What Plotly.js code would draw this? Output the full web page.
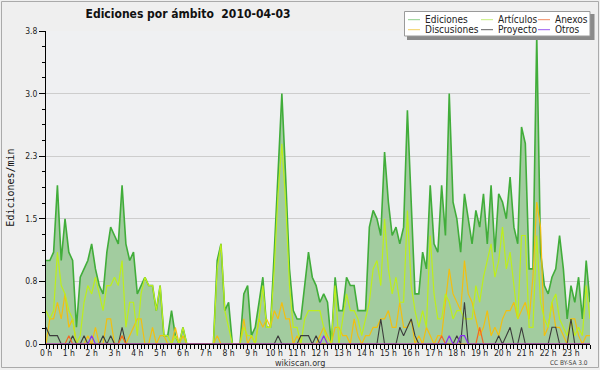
<!DOCTYPE html>
<html><head><meta charset="utf-8">
<script src="https://cdn.plot.ly/plotly-3.0.1.min.js"></script>
<style>html,body{margin:0;padding:0;background:#efefef}</style>
</head><body><div id="chart" style="width:600px;height:370px"></div>
<script>
// 10-minute samples, 2010-04-03 (edits per minute)
const ediciones = [
1.0,1.0,1.1,1.9,1.0,1.5,1.1,1.0,0.2,0.8,
0.9,1.0,1.2,0.9,0.7,0.6,1.1,1.4,1.3,1.2,
1.9,1.2,1.0,1.1,0.6,0.7,0.8,0.7,0.7,0.4,
0.7,0.1,0.1,0.4,0.1,0.0,0.2,0.0,0,0,
0,0,0,0,0,1.0,1.2,0.4,0.5,0.0,
0,0,0.6,0.7,0.1,0.2,0.5,0.8,0.2,0.2,
1.1,2.1,3.0,2.0,0.9,0.4,0.3,0.3,0.7,1.1,
0.8,0.7,0.5,0.6,0.5,0.0,0.8,0.4,0.4,0.8,
0.7,0.7,0.4,0.4,0.4,1.4,1.6,1.5,1.3,2.3,
1.7,1.3,1.4,1.2,1.4,2.8,1.6,0.6,0.6,1.1,
0.9,1.9,1.2,1.1,1.9,1.3,3.0,1.7,1.5,1.1,
1.8,1.5,1.2,1.6,1.4,1.8,1.2,1.9,1.1,1.8,
1.7,1.5,2.0,1.4,1.2,2.6,2.4,0.9,0.9,3.7,
1.1,0.7,0.6,0.8,0.9,1.3,0.9,0.3,0.7,0.5,
0.8,0.3,1.0,0.5];
const articulos = [
0.4,0.3,0.4,1.1,0.7,0.6,0.4,0.3,0.0,0.1,
0.5,0.7,0.6,0.8,0.6,0.4,0.7,0.7,0.8,0.7,
1.0,0.2,0.5,0.5,0.1,0.6,0.8,0.7,0.7,0.4,
0.7,0.1,0.1,0.0,0.1,0.0,0.2,0,0,0,
0,0,0,0,0,0.9,1.2,0.4,0.2,0,
0,0,0.2,0.1,0.1,0.0,0.3,0.7,0.2,0.2,
0.9,1.8,2.4,1.7,0.7,0.2,0.2,0.0,0.3,0.4,
0.4,0.4,0.4,0.2,0.0,0.0,0.7,0.0,0.3,0.6,
0.4,0.4,0.3,0.1,0.3,0.5,0.9,1.0,0.7,1.5,
0.9,0.6,0.8,0.5,0.5,1.6,0.7,0.4,0.2,0.4,
0.2,1.3,0.6,0.3,0.3,0.6,0.5,0.3,0.4,0.4,
0.3,0.3,0.3,0.7,0.5,0.8,1.0,1.2,0.8,1.0,
1.4,0.9,1.1,0.7,0.3,1.3,1.3,0.2,0.2,1.3,
0.5,0.3,0.2,0.5,0.6,0.3,0.2,0.1,0.3,0.1,
0.2,0.1,0.7,0.3];
const discusiones = [
0.0,0.3,0.3,0.5,0.3,0.6,0.2,0.3,0.0,0.0,
0.0,0.1,0.0,0.2,0.0,0.0,0.3,0.3,0.0,0.0,
0.1,0.0,0.1,0.2,0.3,0.3,0.0,0.0,0.2,0.0,
0.1,0.1,0.0,0.0,0.2,0.0,0.1,0,0,0,
0,0,0,0,0,0.1,0.0,0,0,0,
0,0,0.3,0.0,0.1,0.0,0.3,0.2,0.3,0.2,
0.4,0.3,0.5,0.3,0.3,0.0,0.1,0.0,0.0,0.0,
0.0,0.0,0.1,0.2,0.1,0.0,0.2,0.2,0.1,0.1,
0.0,0.3,0.1,0.0,0.1,0.1,0.2,0.2,0.3,0.3,
0.4,0.2,0.2,0.5,0.2,0.2,0.3,0.0,0.1,0.0,
0.2,0.1,0.0,0.1,0.1,0.5,0.9,0.6,0.5,0.4,
1.0,0.6,0.5,0.3,0.1,0.2,0.4,0.1,0.2,0.1,
0.3,0.4,0.4,0.5,0.3,0.4,0.5,0.3,0.8,1.7,
1.4,0.1,0.2,0.5,0.2,0.2,0.1,0.0,0.3,0.3,
0.1,0.0,0.1,0.1];
const proyecto = [
0.2,0.1,0.1,0.1,0,0,0,0.1,0,0,
0.1,0,0,0,0,0.1,0,0.1,0,0,
0.2,0,0,0,0,0,0,0,0,0,
0,0,0,0,0,0,0,0,0,0,
0,0,0,0,0,0,0,0,0,0,
0,0,0,0,0,0,0,0,0,0,
0,0.1,0,0,0,0,0,0.1,0.1,0.1,
0,0.1,0,0,0,0,0,0,0,0,
0,0,0,0,0,0,0,0,0.3,0,
0,0,0,0.2,0.1,0.2,0.3,0.1,0,0,
0,0,0,0,0,0,0,0,0.1,0,
0.5,0,0,0,0,0,0,0,0,0.1,
0,0.1,0.2,0,0,0.2,0,0,0,0,
0,0,0,0.2,0.2,0,0,0,0.3,0,
0,0,0,0];
const anexos = [
0,0,0,0,0,0,0.1,0,0,0,
0,0,0,0,0,0,0,0,0,0,
0.1,0,0,0,0,0,0,0,0,0,
0,0,0,0,0,0,0,0,0,0,
0,0,0,0,0,0,0,0,0,0,
0,0,0,0,0,0,0,0,0,0,
0,0,0,0,0,0,0,0,0,0,
0,0,0,0,0,0,0,0,0,0,
0,0,0,0,0,0,0,0,0,0,
0,0,0,0,0,0,0,0,0,0,
0,0,0,0,0.1,0,0,0,0,0,
0,0,0,0,0.2,0,0,0,0,0,
0,0,0,0,0,0,0,0,0,0,
0,0,0,0,0,0,0,0,0,0,
0,0,0,0];
const otros = [
0,0,0,0,0,0,0,0,0,0,
0,0,0.1,0,0,0,0,0,0,0,
0,0,0,0,0,0,0,0,0,0,
0,0,0,0,0,0,0,0,0,0,
0,0,0,0,0,0,0,0,0,0,
0,0,0,0,0,0,0,0,0,0,
0,0,0,0,0,0,0,0,0,0,
0,0,0,0.1,0,0,0,0,0,0,
0,0,0,0,0,0,0,0,0,0,
0,0,0,0,0,0,0,0,0,0,
0,0,0,0,0,0,0.1,0,0,0.1,
0.1,0,0,0,0,0,0,0,0,0,
0,0,0,0,0,0,0,0,0,0,
0,0,0,0,0,0,0,0,0,0,
0,0,0,0];

const seriesNames = ['Ediciones','Artículos','Anexos','Discusiones','Proyecto','Otros'];
const yTickVals = [0, 0.75, 1.5, 2.25, 3.0, 3.75];
const yTickText = ['0.0','0.8','1.5','2.3','3.0','3.8'];
const hourLabels = Array.from({length:24}, (_, h) => h + ' h');

const hours = ediciones.map((_, i) => i / 6);
const FONT = 'DejaVu Sans Condensed, DejaVu Sans, sans-serif';

const styles = {
  'Ediciones':   {line:'#41ad3a', legend:'#8fcf8c', width:1.6},
  'Artículos':   {line:'#bdee1c', legend:'#c6ee7a', width:1.2},
  'Anexos':      {line:'#f06a24', legend:'#f08a60', width:1.2},
  'Discusiones': {line:'#f2bf10', legend:'#f2d060', width:1.2},
  'Proyecto':    {line:'#3c3c3c', legend:'#606060', width:1.1},
  'Otros':       {line:'#8a2ef0', legend:'#9a5af0', width:1.2}
};
const dataByName = {
  'Ediciones': ediciones, 'Artículos': articulos, 'Anexos': anexos,
  'Discusiones': discusiones, 'Proyecto': proyecto, 'Otros': otros
};
const drawOrder = ['Ediciones','Discusiones','Artículos','Proyecto','Anexos','Otros'];

const traces = drawOrder.map(name => {
  const t = {
    x: hours, y: dataByName[name], type:'scatter', mode:'lines', name,
    line:{color: styles[name].line, width: styles[name].width},
    showlegend:false, hoverinfo:'skip'
  };
  if (name === 'Ediciones') { t.fill = 'tozeroy'; t.fillcolor = '#a2cc9f'; }
  return t;
});

// layout helpers: pixel -> paper coordinates
const M = {l:46, r:10, t:31, b:26};
const PW = 600 - M.l - M.r, PH = 370 - M.t - M.b;
const px = x => (x - M.l) / PW;
const py = y => (M.t + PH - y) / PH;

const shapes = [
  {type:'rect', xref:'paper', yref:'paper', x0:px(1.5), x1:px(598.5), y0:py(367.5), y1:py(1.5),
   line:{color:'#aaaaaa', width:1}, fillcolor:'rgba(0,0,0,0)', layer:'below'},
  {type:'rect', xref:'paper', yref:'paper', x0:px(407), x1:px(594.5), y0:py(40), y1:py(14),
   line:{width:0}, fillcolor:'#8a8a8a', layer:'above'},
  {type:'rect', xref:'paper', yref:'paper', x0:px(404.5), x1:px(590), y0:py(36), y1:py(11.5),
   line:{color:'#9a9a9a', width:1}, fillcolor:'#ffffff', layer:'above'}
];
const annotations = [
  {text:'wikiscan.org', xref:'paper', yref:'paper', x:px(300), y:py(362.5), xanchor:'center', yanchor:'middle',
   showarrow:false, font:{family:FONT, size:9, color:'#333'}},
  {text:'CC BY-SA 3.0', xref:'paper', yref:'paper', x:px(590), y:py(362.5), xanchor:'right', yanchor:'middle',
   showarrow:false, font:{family:FONT, size:6.5, color:'#444'}}
];
const colX = [408, 481, 538];
const rowY = [19.7, 29.7];
seriesNames.forEach((name, k) => {
  const c = k % 3, r = Math.floor(k / 3);
  const x0 = colX[c], y0 = rowY[r];
  shapes.push({type:'line', xref:'paper', yref:'paper', x0:px(x0), x1:px(x0+12), y0:py(y0), y1:py(y0),
    line:{color: styles[name].legend, width:1}, layer:'above'});
  annotations.push({text:name, xref:'paper', yref:'paper', x:px(x0+15), y:py(y0), xanchor:'left', yanchor:'middle',
    showarrow:false, font:{family:FONT, size:10, color:'#222'}});
});

const layout = {
  width:600, height:370, margin:M,
  paper_bgcolor:'#efefef', plot_bgcolor:'#eff0f2',
  font:{family:FONT, size:9, color:'#222'},
  title:{text:'Ediciones por ámbito\u00a0 2010-04-03', xref:'container', yref:'container',
    x:188/600, xanchor:'center', y:1-14/370, yanchor:'middle',
    font:{family:FONT, size:12, weight:'bold', color:'#111'}},
  xaxis:{range:[0, 143/6], tickmode:'array', tickvals:hourLabels.map((_, h) => h), ticktext:hourLabels,
    ticks:'outside', ticklen:4, tickcolor:'#000', showgrid:false, zeroline:false,
    showline:true, linecolor:'#000', linewidth:1, ticklabelstandoff:-3,
    tickfont:{family:FONT, size:8.5, color:'#222'},
    minor:{tickmode:'linear', tick0:0, dtick:1/6, ticks:'outside', ticklen:4, tickcolor:'#000', showgrid:false}},
  yaxis:{range:[0, 3.75], tickmode:'array', tickvals:yTickVals, ticktext:yTickText,
    ticks:'outside', ticklen:6, tickcolor:'#000', showgrid:true, gridcolor:'#cdcdcd', gridwidth:1,
    zeroline:false, showline:true, linecolor:'#000', linewidth:1,
    tickfont:{family:FONT, size:8.5, color:'#222'},
    title:{text:'Ediciones/min', font:{family:'DejaVu Sans Mono, monospace', size:10, color:'#111'}, standoff:8},
    minor:{tickmode:'linear', tick0:0, dtick:0.1875, ticks:'outside', ticklen:3, tickcolor:'#000', showgrid:false}},
  shapes, annotations, showlegend:false
};

Plotly.newPlot('chart', traces, layout, {staticPlot:true, displayModeBar:false});
</script></body></html>
